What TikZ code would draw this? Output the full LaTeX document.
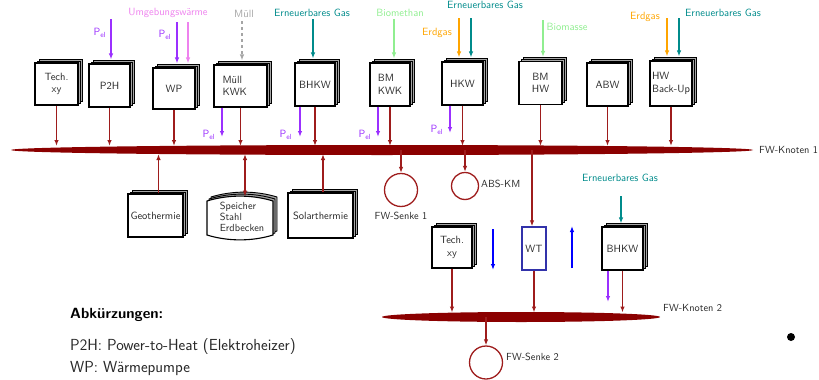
\documentclass[tikz,border=0pt]{standalone}
\usepackage{fontspec}
\usetikzlibrary{arrows.meta,shadows,calc,shapes.geometric}
\definecolor{busred}{RGB}{139,0,0}
\definecolor{conred}{RGB}{158,28,28}
\definecolor{pelc}{RGB}{155,48,255}
\definecolor{umgeb}{RGB}{238,130,238}
\definecolor{muell}{RGB}{165,165,165}
\definecolor{egas}{RGB}{0,139,139}
\definecolor{bio}{RGB}{144,238,144}
\definecolor{erdgas}{RGB}{255,165,0}
\definecolor{wtblue}{RGB}{50,50,170}
\definecolor{txt}{RGB}{40,40,40}
\begin{document}
\begin{tikzpicture}[x=1pt,y=-1pt,
  font=\sffamily,
  unit/.style={draw=black, line width=1.1pt, fill=white, inner sep=1pt, align=center,
     text=txt, font=\sffamily\fontsize{10.5}{12.5}\selectfont,
     copy shadow={shadow xshift=4pt,shadow yshift=4pt,fill=gray!70,draw=black,line width=0.9pt},
     copy shadow={shadow xshift=2pt,shadow yshift=2pt,fill=gray!70,draw=black,line width=0.9pt}},
  arr/.style={line width=1.2pt,-{Latex[length=6pt,width=4.5pt]}},
  lbl/.style={inner sep=0pt, font=\sffamily\fontsize{10.5}{12}\selectfont},
  blbl/.style={inner sep=0pt, text=txt, font=\sffamily\fontsize{10.3}{12}\selectfont},
  bus/.style={ellipse, fill=busred, inner sep=0pt}
]
\useasboundingbox (0,0) rectangle (819,380);

% ---------- bus 1
\node[bus, minimum width=742pt, minimum height=10pt] (k1) at (382,150) {};
\coordinate (k1t) at (0,146);
\coordinate (k1b) at (0,154);
\coordinate (k1c) at (0,150);
\node[blbl, anchor=west] (k1l) at (759,150) {FW-Knoten 1};

% ---------- top units
\node[unit, minimum width=43pt, minimum height=42pt] (tech1) at (56.5,84) {Tech.\\xy};
\node[unit, minimum width=41pt, minimum height=43pt] (p2h) at (109.5,85.5) {P2H};
\node[unit, minimum width=42pt, minimum height=41pt] (wp) at (174,88.5) {WP};
\node[unit, minimum width=53pt, minimum height=42pt, align=left, text width=36pt] (mkwk) at (240.5,86) {Müll\\KWK};
\node[unit, minimum width=40pt, minimum height=43pt] (bhkw1) at (315,84.5) {BHKW};
\node[unit, minimum width=40pt, minimum height=43pt, align=left] (bmkwk) at (390,84.5) {BM\\KWK};
\node[unit, minimum width=41pt, minimum height=43pt] (hkw) at (462.5,83.5) {HKW};
\node[unit, minimum width=43pt, minimum height=43pt] (bmhw) at (540.5,83) {BM\\HW};
\node[unit, minimum width=41pt, minimum height=43pt] (abw) at (607.5,84.5) {ABW};
\node[unit, minimum width=42pt, minimum height=45pt, align=left] (hwbu) at (671,83.5) {HW\\Back-Up};

\foreach \n in {tech1,p2h,wp,mkwk,bhkw1,bmkwk,hkw,bmhw,abw,hwbu}
  \draw[arr,draw=conred] (\n.south) -- (\n.south |- k1t);

% ---------- inputs
\coordinate (ia) at (111,19);
\draw[arr,draw=pelc] (ia) -- ($(ia |- p2h.north)+(0,-4)$);
\node[lbl,text=pelc] (pla) at (100,33) {P\textsubscript{el}};

\coordinate (ib) at (177,22);
\draw[arr,draw=pelc] (ib) -- ($(ib |- wp.north)+(0,-4)$);
\node[lbl,text=pelc] (plb) at (165,35) {P\textsubscript{el}};
\coordinate (ic) at (188,22);
\draw[arr,draw=umgeb] (ic) -- ($(ic |- wp.north)+(0,-4)$);
\node[lbl,text=umgeb] (lumg) at (168,13) {Umgebungswärme};

\coordinate (id) at (242,21);
\draw[arr,draw=muell,dashed] (id) -- ($(id |- mkwk.north)+(0,-4)$);
\node[lbl,text=muell] (lmue) at (244,14) {Müll};

\coordinate (ie) at (313,19);
\draw[arr,draw=egas] (ie) -- ($(ie |- bhkw1.north)+(0,-4)$);
\node[lbl,text=egas] (leg1) at (312,13) {Erneuerbares Gas};

\coordinate (if) at (394,19);
\draw[arr,draw=bio] (if) -- ($(if |- bmkwk.north)+(0,-4)$);
\node[lbl,text=bio] (lbm) at (400,13) {Biomethan};

\coordinate (ig) at (459,18);
\draw[arr,draw=erdgas] (ig) -- ($(ig |- hkw.north)+(0,-4)$);
\node[lbl,text=erdgas] (led1) at (437,33) {Erdgas};
\coordinate (ih) at (471,18);
\draw[arr,draw=egas] (ih) -- ($(ih |- hkw.north)+(0,-4)$);
\node[lbl,text=egas] (leg2) at (485,5) {Erneuerbares Gas};

\coordinate (ii) at (543,20);
\draw[arr,draw=bio] (ii) -- ($(ii |- bmhw.north)+(0,-4)$);
\node[lbl,text=bio] (lbms) at (567,27) {Biomasse};

\coordinate (ij) at (667,18);
\draw[arr,draw=erdgas] (ij) -- ($(ij |- hwbu.north)+(0,-4)$);
\node[lbl,text=erdgas] (led2) at (645,17) {Erdgas};
\coordinate (ik) at (679,18);
\draw[arr,draw=egas] (ik) -- ($(ik |- hwbu.north)+(0,-4)$);
\node[lbl,text=egas] (leg3) at (723,13) {Erneuerbares Gas};

% ---------- electric outputs
\coordinate (pe1) at (222,137);
\draw[arr,draw=pelc] (mkwk.south -| pe1) -- (pe1);
\node[lbl,text=pelc] (plc) at (209,135) {P\textsubscript{el}};
\coordinate (pe2) at (300,137);
\draw[arr,draw=pelc] (bhkw1.south -| pe2) -- (pe2);
\node[lbl,text=pelc] (pld) at (286,135) {P\textsubscript{el}};
\coordinate (pe3) at (378,137);
\draw[arr,draw=pelc] (bmkwk.south -| pe3) -- (pe3);
\node[lbl,text=pelc] (ple) at (365,135) {P\textsubscript{el}};
\coordinate (pe4) at (450,133);
\draw[arr,draw=pelc] (hkw.south -| pe4) -- (pe4);
\node[lbl,text=pelc] (plf) at (437,130) {P\textsubscript{el}};

% ---------- bottom units of bus 1
\node[unit, minimum width=55pt, minimum height=43pt] (geo) at (155.5,215.5) {Geothermie};
\node[unit, minimum width=65pt, minimum height=45pt] (sol) at (320.5,215.5) {Solarthermie};
\draw[arr,draw=conred] ($(geo.north)+(3,0)$) -- ($(geo.north |- k1b)+(3,0)$);
\draw[arr,draw=conred] ($(sol.north)+(2.5,0)$) -- ($(sol.north |- k1b)+(2.5,0)$);

\foreach \s in {4,2}
  \draw[fill=gray!70, line width=0.9pt, shift={(\s,-\s)}]
    (207,201) -- (207,235) .. controls (228,241.5) and (252,241.5) .. (273,235)
    -- (273,201) .. controls (252,194.5) and (228,194.5) .. (207,201) -- cycle;
\draw[fill=white, line width=1.1pt]
    (207,201) -- (207,235) .. controls (228,241.5) and (252,241.5) .. (273,235)
    -- (273,201) .. controls (252,194.5) and (228,194.5) .. (207,201) -- cycle;
\node[align=left, inner sep=0pt, text=txt, font=\sffamily\fontsize{10.3}{10.8}\selectfont] (spe) at (242,217) {Speicher\\Stahl\\Erdbecken};
\coordinate (spetop) at (245,196.5);
\draw[line width=1.2pt,{Latex[length=6pt,width=4.5pt]}-{Latex[length=6pt,width=4.5pt]},draw=conred] (spetop |- k1b) -- (spetop);

% ---------- sinks
\node[circle, draw=conred, line width=1.3pt, minimum size=33pt, inner sep=0pt] (s1) at (401,190) {};
\draw[arr,draw=conred] (s1.north |- k1c) -- (s1.north);
\node[blbl, anchor=north] (s1l) at (401,212) {FW-Senke 1};
\node[circle, draw=conred, line width=1.3pt, minimum size=27pt, inner sep=0pt] (abs) at (465,186) {};
\draw[arr,draw=conred] (abs.north |- k1c) -- (abs.north);
\node[blbl, anchor=west] (absl) at (481,184) {ABS-KM};

% ---------- lower subnet
\node[unit, minimum width=40pt, minimum height=41pt] (tech2) at (452,247.5) {Tech.\\xy};
\node[draw=wtblue, line width=1.3pt, fill=white, minimum width=24pt, minimum height=43pt, inner sep=0pt, text=txt, font=\sffamily\fontsize{10.5}{12}\selectfont] (wt) at (534,248.5) {WT};
\node[unit, minimum width=41pt, minimum height=43pt] (bhkw2) at (622.5,248.5) {BHKW};
\draw[arr,draw=conred] ($(wt.north |- k1c)+(-2,0)$) -- ($(wt.north)+(-2,0)$);

\coordinate (bd1) at (493,229);
\coordinate (bd2) at (493,270);
\draw[arr,draw=blue] (bd1) -- (bd2);
\coordinate (bu1) at (572,268);
\coordinate (bu2) at (572,226);
\draw[arr,draw=blue] (bu1) -- (bu2);

\coordinate (il) at (621,196);
\draw[arr,draw=egas] (il) -- ($(il |- bhkw2.north)+(0,-3)$);
\node[lbl,text=egas] (leg4) at (620,178) {Erneuerbares Gas};

\node[bus, minimum width=278pt, minimum height=10pt] (k2) at (521,317) {};
\coordinate (k2t) at (0,312.5);
\node[blbl, anchor=west] (k2l) at (663,308) {FW-Knoten 2};
\draw[arr,draw=conred] (tech2.south) -- (tech2.south |- k2t);
\draw[arr,draw=conred] (wt.south) -- (wt.south |- k2t);
\draw[arr,draw=conred] (bhkw2.south) -- (bhkw2.south |- k2t);
\coordinate (pe5) at (608,302);
\draw[arr,draw=pelc] (bhkw2.south -| pe5) -- (pe5);

\node[circle, draw=conred, line width=1.3pt, minimum size=33pt, inner sep=0pt] (s2) at (486,362.5) {};
\draw[arr,draw=conred] (s2.north |- k2) -- (s2.north);
\node[blbl, anchor=west] (s2l) at (506,357) {FW-Senke 2};

\node[circle, fill=black, minimum size=8pt, inner sep=0pt] (dot) at (791,337) {};

% ---------- legend
\node[anchor=west, inner sep=0pt, font=\sffamily\bfseries\fontsize{14.8}{17}\selectfont] (abk) at (70,315) {Abkürzungen:};
\node[anchor=west, inner sep=0pt, text=txt, font=\sffamily\fontsize{16}{19}\selectfont] (ab1) at (70,347) {P2H: Power-to-Heat (Elektroheizer)};
\node[anchor=west, inner sep=0pt, text=txt, font=\sffamily\fontsize{16}{19}\selectfont] (ab2) at (70,369) {WP: Wärmepumpe};
\end{tikzpicture}
\end{document}
